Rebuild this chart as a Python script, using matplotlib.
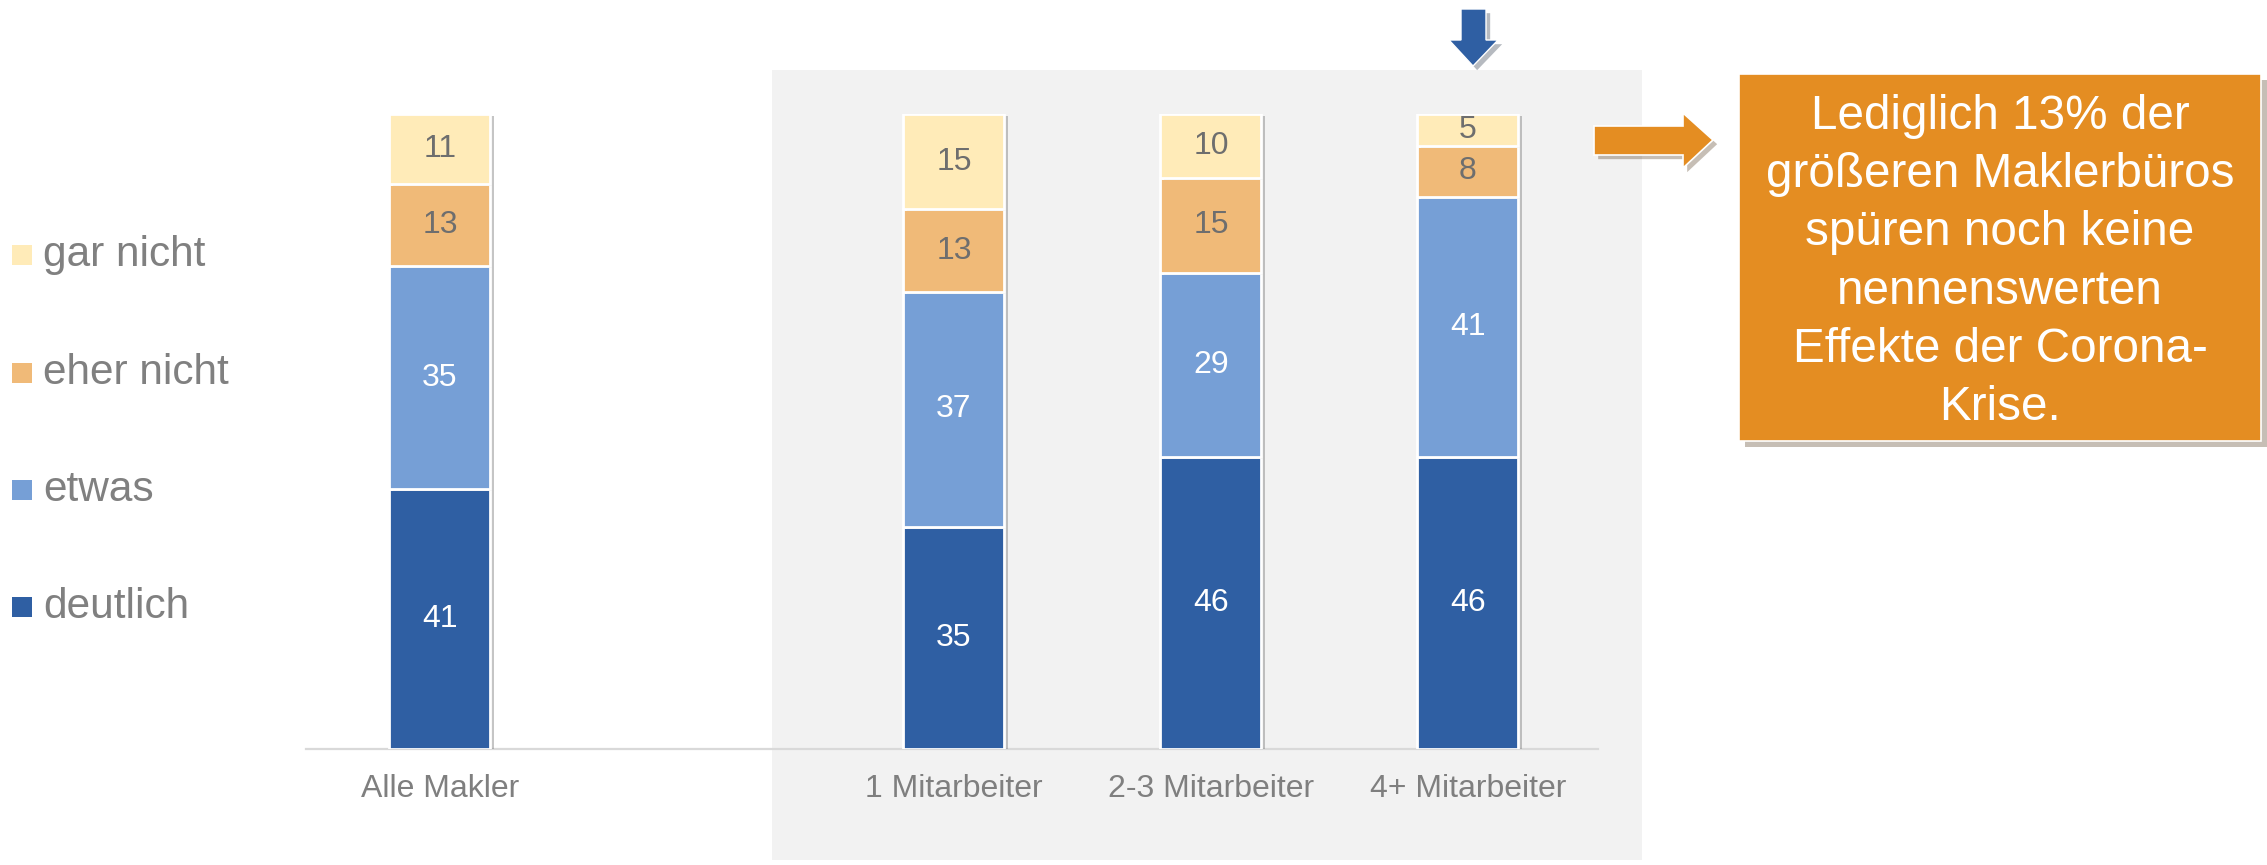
import matplotlib
matplotlib.use("Agg")
import matplotlib.pyplot as plt
from matplotlib.patches import Rectangle, Polygon
import matplotlib.patheffects as pe
import numpy as np

plt.rcParams['font.family'] = ['Liberation Sans', 'DejaVu Sans']

# ---- data ----
categories = ["Alle Makler", "1 Mitarbeiter", "2-3 Mitarbeiter", "4+ Mitarbeiter"]
series_names = ["deutlich", "etwas", "eher nicht", "gar nicht"]
deutlich = [41, 35, 46, 46]
etwas = [35, 37, 29, 41]
eher_nicht = [13, 13, 15, 8]
gar_nicht = [11, 15, 10, 5]
callout_text = "Lediglich 13% der\ngrößeren Maklerbüros\nspüren noch keine\nnennenswerten\nEffekte der Corona-\nKrise."

series = [deutlich, etwas, eher_nicht, gar_nicht]
colors = ["#2F5FA3", "#769FD6", "#F0BA78", "#FFEBB8"]
label_colors = ["white", "white", "#6E6E6E", "#6E6E6E"]

W, H = 2267, 865
fig = plt.figure(figsize=(W / 100, H / 100), dpi=100)
fig.patch.set_facecolor("white")


def px(x, y):
    return (x / W, 1 - y / H)


def poly(points, **kw):
    return Polygon([px(x, y) for x, y in points], closed=True,
                   transform=fig.transFigure, **kw)


# gray highlight panel (behind the axes)
gx0, gy0, gx1, gy1 = 772, 70, 1642, 860
fig.patches.append(Rectangle(px(gx0, gy1), (gx1 - gx0) / W, (gy1 - gy0) / H,
                             transform=fig.transFigure, facecolor="#F2F2F2",
                             edgecolor="none", zorder=-5))

ax = fig.add_axes([306 / W, 116 / H, 1292 / W, 635 / H])
ax.set_zorder(1)
ax.patch.set_alpha(0)
xpos = np.array([0, 2, 3, 4])
width = 0.393

bottom = np.zeros(len(categories))
shadow = [pe.SimplePatchShadow(offset=(2.5, -1.5), shadow_rgbFace="#7F7F7F", alpha=0.45), pe.Normal()]
for vals, col, lc, name in zip(series, colors, label_colors, series_names):
    vals = np.array(vals, dtype=float)
    bars = ax.bar(xpos, vals, width, bottom=bottom, color=col, edgecolor="white",
                  linewidth=2, label=name, zorder=3)
    for b in bars:
        b.set_path_effects(shadow)
    for x, v, b0 in zip(xpos, vals, bottom):
        ax.text(x, b0 + v / 2, f"{int(v)}", ha="center", va="center",
                color=lc, fontsize=23, zorder=5)
    bottom += vals

ax.set_xlim(-0.521, 4.506)
ax.set_ylim(0, 100)
ax.set_xticks(xpos)
ax.set_xticklabels(categories, fontsize=23, color="#7F7F7F")
ax.tick_params(axis="x", length=0, pad=18)
ax.set_yticks([])
for s in ["top", "right", "left"]:
    ax.spines[s].set_visible(False)
ax.spines["bottom"].set_color("#D9D9D9")
ax.spines["bottom"].set_linewidth(1.6)

# legend (manual, top entry first)
leg_y = [255, 373, 490, 607]
for yy, name, col in zip(leg_y, series_names[::-1], colors[::-1]):
    fig.patches.append(Rectangle(px(12, yy + 10), 20 / W, 20 / H,
                                 transform=fig.transFigure, facecolor=col,
                                 edgecolor="none"))
    fig.text(43 / W, 1 - yy / H, name, fontsize=30.5, color="#808080",
             ha="left", va="center")

# blue down arrow
blue_arrow = [(1461, 9), (1486, 9), (1486, 40), (1498, 40), (1473, 66),
              (1449, 40), (1461, 40)]
fig.patches.append(poly(blue_arrow, facecolor="#2F5FA3", edgecolor="white", linewidth=1,
                        path_effects=[pe.SimplePatchShadow(offset=(3, -3), alpha=0.3), pe.Normal()],
                        zorder=4))

# orange right arrow
orange_arrow = [(1594, 126), (1683, 126), (1683, 113), (1713, 140), (1683, 168),
                (1683, 155), (1594, 155)]
fig.patches.append(poly(orange_arrow, facecolor="#E48D22", edgecolor="white", linewidth=1.2,
                        path_effects=[pe.SimplePatchShadow(offset=(3, -3), alpha=0.3), pe.Normal()],
                        zorder=4))

# orange callout box
bx0, by0, bx1, by1 = 1739, 74, 2261, 441
fig.patches.append(Rectangle(px(bx0, by1), (bx1 - bx0) / W, (by1 - by0) / H,
                             transform=fig.transFigure, facecolor="#E48D22",
                             edgecolor="white", linewidth=1.2,
                             path_effects=[pe.SimplePatchShadow(offset=(4, -4), alpha=0.3), pe.Normal()],
                             zorder=4))
fig.text((bx0 + bx1) / 2 / W, 1 - 262 / H, callout_text, fontsize=34.3,
         color="white", ha="center", va="center", linespacing=1.375, zorder=6)

fig.savefig("out.png", dpi=100, facecolor="white")
